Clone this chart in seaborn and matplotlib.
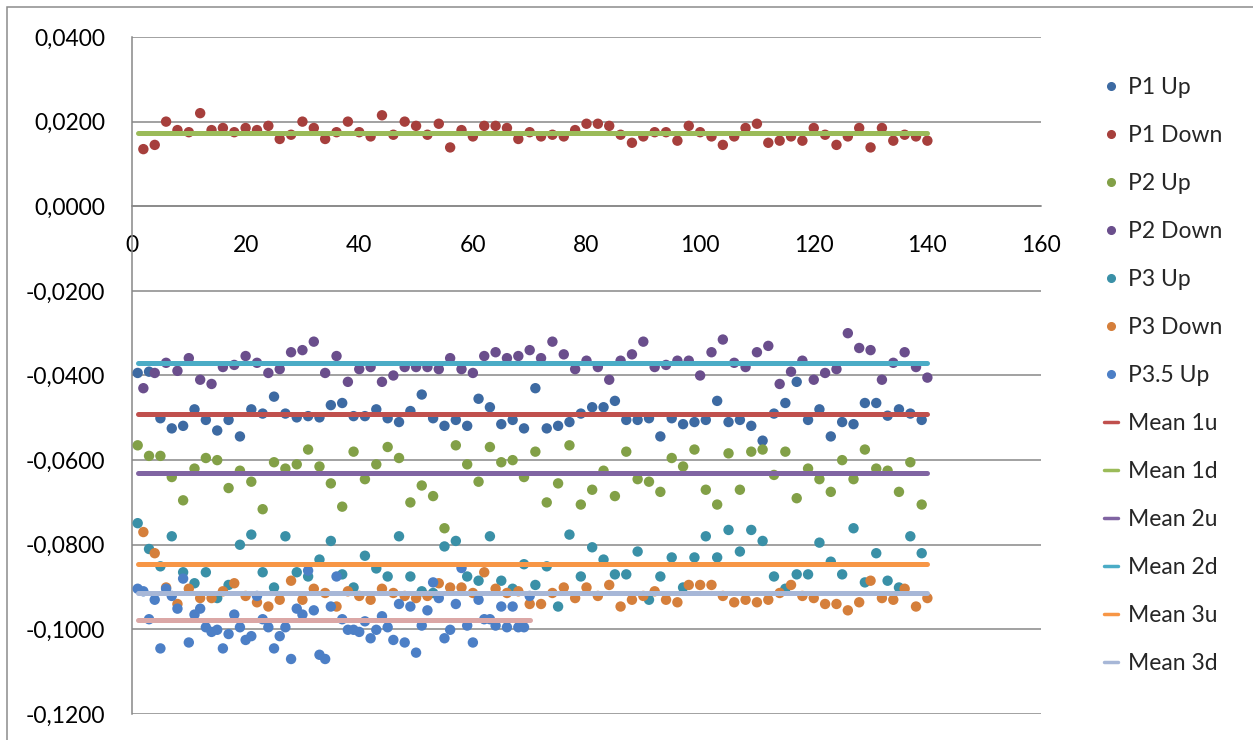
import numpy as np
import seaborn as sns
import matplotlib
matplotlib.use('Agg')
import matplotlib.pyplot as plt
from matplotlib.ticker import FuncFormatter, MultipleLocator
from matplotlib.lines import Line2D
from matplotlib.patches import Rectangle

# posizioni x dei punti
x_odd = np.arange(1, 140, 2)
x_even = np.arange(2, 141, 2)
x_p35 = np.arange(1, 71)

# serie
p1_up = [-0.0394, -0.0391, -0.0501, -0.0525, -0.0519, -0.0480, -0.0505, -0.0530, -0.0505, -0.0544,
         -0.0480, -0.0490, -0.0450, -0.0490, -0.0499, -0.0496, -0.0499, -0.0470, -0.0465, -0.0496,
         -0.0496, -0.0480, -0.0501, -0.0510, -0.0484, -0.0445,
         -0.0501, -0.0519, -0.0505, -0.0519, -0.0455, -0.0475, -0.0515, -0.0505, -0.0525, -0.0430,
         -0.0525, -0.0519, -0.0510, -0.0490, -0.0475, -0.0475, -0.0460, -0.0505, -0.0505, -0.0501,
         -0.0544, -0.0501, -0.0515, -0.0510, -0.0505, -0.0460,
         -0.0510, -0.0505, -0.0519, -0.0554, -0.0490, -0.0465, -0.0415, -0.0505, -0.0480, -0.0544,
         -0.0510, -0.0515, -0.0465, -0.0465, -0.0495, -0.0480, -0.0490, -0.0505]

p1_down = [0.0135, 0.0145, 0.0200, 0.0180, 0.0175, 0.0220, 0.0180, 0.0185, 0.0175, 0.0185,
           0.0180, 0.0190, 0.0159, 0.0169, 0.0200, 0.0185, 0.0159, 0.0175, 0.0200, 0.0175,
           0.0165, 0.0215, 0.0169, 0.0200, 0.0190, 0.0169,
           0.0195, 0.0139, 0.0180, 0.0165, 0.0190, 0.0190, 0.0185, 0.0159, 0.0175, 0.0165,
           0.0169, 0.0165, 0.0180, 0.0195, 0.0195, 0.0190, 0.0169, 0.0150, 0.0165, 0.0175,
           0.0175, 0.0155, 0.0190, 0.0175, 0.0165, 0.0145,
           0.0165, 0.0185, 0.0195, 0.0150, 0.0155, 0.0165, 0.0155, 0.0185, 0.0169, 0.0145,
           0.0165, 0.0185, 0.0139, 0.0185, 0.0155, 0.0169, 0.0165, 0.0155]

p2_up = [-0.0565, -0.0590, -0.0590, -0.0640, -0.0695, -0.0620, -0.0595, -0.0600, -0.0666, -0.0625,
         -0.0651, -0.0716, -0.0605, -0.0620, -0.0610, -0.0575, -0.0615, -0.0655, -0.0710, -0.0580,
         -0.0645, -0.0610, -0.0569, -0.0595, -0.0700, -0.0660, -0.0685,
         -0.0761, -0.0565, -0.0610, -0.0651, -0.0569, -0.0605, -0.0600, -0.0640, -0.0580, -0.0700,
         -0.0655, -0.0565, -0.0705, -0.0670, -0.0625, -0.0685, -0.0580, -0.0645, -0.0651, -0.0675,
         -0.0595, -0.0615, -0.0575, -0.0670, -0.0705, -0.0584,
         -0.0670, -0.0580, -0.0575, -0.0635, -0.0580, -0.0690, -0.0620, -0.0645, -0.0675, -0.0600,
         -0.0645, -0.0575, -0.0620, -0.0625, -0.0675, -0.0605, -0.0705]

p2_down = [-0.0430, -0.0394, -0.0370, -0.0389, -0.0359, -0.0410, -0.0420, -0.0380, -0.0375, -0.0354,
           -0.0370, -0.0394, -0.0385, -0.0345, -0.0340, -0.0320, -0.0394, -0.0354, -0.0415, -0.0385,
           -0.0380, -0.0415, -0.0400, -0.0380, -0.0380, -0.0380,
           -0.0385, -0.0359, -0.0385, -0.0394, -0.0354, -0.0345, -0.0359, -0.0354, -0.0340, -0.0359,
           -0.0320, -0.0350, -0.0385, -0.0365, -0.0380, -0.0410, -0.0365, -0.0350, -0.0320, -0.0380,
           -0.0375, -0.0365, -0.0365, -0.0400, -0.0345, -0.0315,
           -0.0370, -0.0380, -0.0345, -0.0330, -0.0420, -0.0391, -0.0365, -0.0410, -0.0394, -0.0385,
           -0.0300, -0.0335, -0.0340, -0.0410, -0.0370, -0.0345, -0.0380, -0.0405]

p3_up = [-0.0749, -0.0810, -0.0851, -0.0780, -0.0865, -0.0891, -0.0865, -0.0926, -0.0895, -0.0800,
         -0.0776, -0.0865, -0.0901, -0.0780, -0.0865, -0.0875, -0.0835, -0.0791, -0.0870, -0.0901,
         -0.0826, -0.0856, -0.0875, -0.0780, -0.0875, -0.0910,
         -0.0914, -0.0804, -0.0791, -0.0875, -0.0885, -0.0780, -0.0885, -0.0904, -0.0846, -0.0895,
         -0.0851, -0.0946, -0.0776, -0.0875, -0.0806, -0.0835, -0.0870, -0.0870, -0.0816, -0.0930,
         -0.0875, -0.0830, -0.0901, -0.0830, -0.0780, -0.0830, -0.0765,
         -0.0816, -0.0765, -0.0791, -0.0875, -0.0904, -0.0870, -0.0870, -0.0795, -0.0840, -0.0870,
         -0.0761, -0.0889, -0.0820, -0.0885, -0.0901, -0.0780, -0.0820]

p3_down = [-0.0770, -0.0820, -0.0901, -0.0940, -0.0904, -0.0926, -0.0926, -0.0910, -0.0891, -0.0921,
           -0.0936, -0.0946, -0.0930, -0.0885, -0.0930, -0.0904, -0.0914, -0.0946, -0.0910, -0.0921,
           -0.0930, -0.0904, -0.0914, -0.0921, -0.0926, -0.0921,
           -0.0891, -0.0901, -0.0901, -0.0914, -0.0865, -0.0904, -0.0914, -0.0910, -0.0940, -0.0940,
           -0.0914, -0.0901, -0.0926, -0.0901, -0.0921, -0.0895, -0.0946, -0.0930, -0.0921, -0.0910,
           -0.0930, -0.0936, -0.0895, -0.0895, -0.0895, -0.0921,
           -0.0936, -0.0930, -0.0936, -0.0930, -0.0914, -0.0895, -0.0921, -0.0926, -0.0940, -0.0940,
           -0.0955, -0.0936, -0.0885, -0.0926, -0.0930, -0.0904, -0.0946, -0.0926]

p35_up = [-0.0904, -0.0910, -0.0976, -0.0930, -0.1045, -0.0904, -0.0921, -0.0951, -0.0880, -0.1031,
          -0.0965, -0.0951, -0.0995, -0.1006, -0.1001, -0.1045, -0.1011, -0.0965, -0.0995, -0.1025,
          -0.1016, -0.0921, -0.0976, -0.0995, -0.1045, -0.1016, -0.0995, -0.1070, -0.0951, -0.0965,
          -0.0861, -0.0955, -0.1060, -0.1070, -0.0946, -0.0875, -0.0976, -0.1001, -0.1001, -0.1006,
          -0.0981, -0.1021, -0.1001, -0.0969, -0.0995, -0.1025, -0.0940, -0.1031, -0.0946, -0.1055,
          -0.0991, -0.0955, -0.0889, -0.0926, -0.1021, -0.1001, -0.0940, -0.0855, -0.0991, -0.1031,
          -0.0930, -0.0976, -0.0976, -0.0991, -0.0946, -0.0995, -0.0946, -0.0995, -0.0995, -0.0921]

# medie (linee orizzontali)
mean_labels = ['Mean 1u', 'Mean 1d', 'Mean 2u', 'Mean 2d', 'Mean 3u', 'Mean 3d']
mean_values = [-0.0492, 0.0174, -0.0631, -0.0371, -0.0845, -0.0913]
mean_x = [1, 140]
mean35_value = -0.0977
mean35_x = [1, 70]

point_labels = ['P1 Up', 'P1 Down', 'P2 Up', 'P2 Down', 'P3 Up', 'P3 Down', 'P3.5 Up']
point_x = [x_odd, x_even, x_odd, x_even, x_odd, x_even, x_p35]
point_y = [p1_up, p1_down, p2_up, p2_down, p3_up, p3_down, p35_up]
point_colors = ['#3D6AA2', '#A63F3C', '#82A047', '#6A4E8C', '#3A90A7', '#D57F3B', '#4C7FC6']
mean_colors = ['#C0504D', '#9BBB59', '#8064A2', '#4BACC6', '#F79646', '#A7B7D7']
mean35_color = '#DBA7A6'

sns.set_style('white')
plt.rcParams['font.family'] = ['Lato', 'DejaVu Sans']

W, H = 1253, 740
fig = plt.figure(figsize=(W / 100, H / 100), dpi=100)
ax = fig.add_axes([132 / W, 1 - 714 / H, (1041 - 132) / W, (714 - 37) / H])

# punti
for xs, ys, c in zip(point_x, point_y, point_colors):
    sns.scatterplot(x=xs, y=ys, color=c, s=56, edgecolor='none', legend=False, ax=ax, zorder=3)

# linee delle medie
for m, c in zip(mean_values, mean_colors):
    sns.lineplot(x=mean_x, y=[m, m], color=c, lw=3.6, solid_capstyle='round', ax=ax, zorder=4)
sns.lineplot(x=mean35_x, y=[mean35_value, mean35_value], color=mean35_color, lw=3.6,
             solid_capstyle='round', ax=ax, zorder=4)

ax.set_xlim(0, 160)
ax.set_ylim(-0.12, 0.04)
ax.xaxis.set_major_locator(MultipleLocator(20))
ax.yaxis.set_major_locator(MultipleLocator(0.02))

def fmt_y(v, pos):
    if abs(v) < 1e-9:
        v = 0.0
    return f'{v:.4f}'.replace('.', ',')

ax.yaxis.set_major_formatter(FuncFormatter(fmt_y))
ax.grid(axis='y', color='#878787', lw=1.1)
ax.grid(axis='x', visible=False)
ax.set_axisbelow(True)

grey = '#878787'
ax.spines['top'].set_visible(False)
ax.spines['right'].set_visible(False)
ax.spines['left'].set_color(grey)
ax.spines['left'].set_linewidth(1.1)
ax.spines['bottom'].set_position(('data', 0))
ax.spines['bottom'].set_color(grey)
ax.spines['bottom'].set_linewidth(1.1)
ax.tick_params(axis='y', length=6.5, width=1.1, color=grey, pad=13, labelsize=16.5, labelcolor='black')
ax.tick_params(axis='x', length=6, width=1.1, color=grey, pad=14.5, labelsize=16.5, labelcolor='black')
ax.set_xlabel('')
ax.set_ylabel('')

# legenda
handles = [Line2D([], [], marker='o', ls='', color=c, markersize=5.5) for c in point_colors]
handles += [Line2D([], [], color=c, lw=2.5) for c in mean_colors]
fig.legend(handles, point_labels + mean_labels, loc='upper left',
           bbox_to_anchor=(1104 / W, 1 - 77 / H), frameon=False, fontsize=16.5,
           labelspacing=1.18, handlelength=0.6, handletextpad=0.45,
           borderaxespad=0, borderpad=0)

# bordo del grafico
fig.patches.append(Rectangle((7 / W, -0.1), 2, 1.1 - 7 / H, transform=fig.transFigure,
                             fill=False, edgecolor='#8C8C8C', lw=1.1))

plt.savefig('out.png', dpi=100)
